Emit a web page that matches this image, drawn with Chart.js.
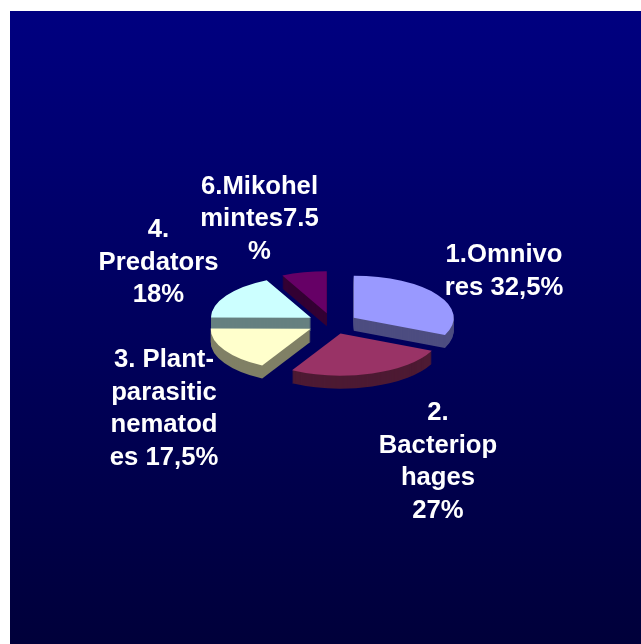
<!DOCTYPE html>
<html>
<head>
<meta charset="utf-8">
<title>Feeding groups</title>
<script src="https://cdn.jsdelivr.net/npm/chart.js@4/dist/chart.umd.min.js"></script>
<style>
  html, body { margin: 0; padding: 0; background: #fff; overflow: hidden; }
  #panel {
    position: absolute; left: 10px; top: 11px; right: 0; bottom: 0;
    background: linear-gradient(to bottom, #000080, #00003a);
  }
  #pie { position: absolute; left: 0; top: 0; display: block; }
</style>
</head>
<body>
<div id="panel"></div>
<canvas id="pie" width="641" height="644"></canvas>
<script>
const labelLines = [
  ['1.Omnivo', 'res 32,5%'],
  ['2.', 'Bacteriop', 'hages', '27%'],
  ['3. Plant-', 'parasitic', 'nematod', 'es 17,5%'],
  ['4.', 'Predators', '18%'],
  ['6.Mikohel', 'mintes7.5', '%']
];
const shares = [32.5, 27, 17.5, 18, 7.5];
const topColors = ['#9999ff', '#993366', '#ffffcc', '#ccffff', '#660066'];
const sideColors = ['#4d4d80', '#4d1a33', '#808066', '#668080', '#330033'];

// centre x and first baseline of each label block
const labelAnchors = [[504, 262], [438, 420], [164, 367], [158.5, 237], [259.5, 193.5]];
const LINE_HEIGHT = 32.6;
const LABEL_FONT = 'bold 25.7px "Liberation Sans", Arial, sans-serif';

const TILT = 0.42;       // vertical squash of the pie disc
const DEPTH = 13;        // height of the extruded rim, px
const EXPLODE = 25.3;    // how far each slice is pulled out, px
const DRAW_ORDER = [4, 3, 0, 2, 1]; // back to front

// Draws the pie as a tilted, exploded disc using the arcs the controller laid out
const tiltedPie = {
  id: 'tiltedPie',
  beforeDatasetDraw(chart, args) {
    const { ctx } = chart;
    const arcs = args.meta.data;

    DRAW_ORDER.forEach(i => {
      const arc = arcs[i];
      const mid = (arc.startAngle + arc.endAngle) / 2;
      const baseOptions = arc.options;

      const place = dy => {
        ctx.save();
        ctx.translate(arc.x, arc.y + dy);
        ctx.scale(1, TILT);
        ctx.translate(-arc.x, -arc.y);
        ctx.translate(Math.cos(mid) * EXPLODE, Math.sin(mid) * EXPLODE);
      };

      // rim first, stacked up one pixel at a time
      arc.options = { ...baseOptions, backgroundColor: sideColors[i], borderColor: sideColors[i] };
      for (let dy = DEPTH; dy > 0; dy--) {
        place(dy);
        arc.draw(ctx);
        ctx.restore();
      }

      arc.options = baseOptions;
      place(0);
      arc.draw(ctx);
      ctx.restore();
    });

    return false;
  },
  afterDraw(chart) {
    const { ctx } = chart;
    ctx.save();
    ctx.font = LABEL_FONT;
    ctx.fillStyle = '#fff';
    ctx.textAlign = 'center';
    ctx.textBaseline = 'alphabetic';
    chart.data.labels.forEach((lines, i) => {
      const [x, y] = labelAnchors[i];
      lines.forEach((line, n) => ctx.fillText(line, x, y + n * LINE_HEIGHT));
    });
    ctx.restore();
  }
};

new Chart(document.getElementById('pie'), {
  type: 'pie',
  data: {
    labels: labelLines,
    datasets: [{
      data: shares,
      backgroundColor: topColors,
      borderWidth: 0
    }]
  },
  options: {
    responsive: false,
    animation: false,
    radius: 100,
    layout: { padding: { left: 24, top: 3 } },
    plugins: {
      legend: { display: false },
      tooltip: { enabled: false }
    }
  },
  plugins: [tiltedPie]
});
</script>
</body>
</html>
